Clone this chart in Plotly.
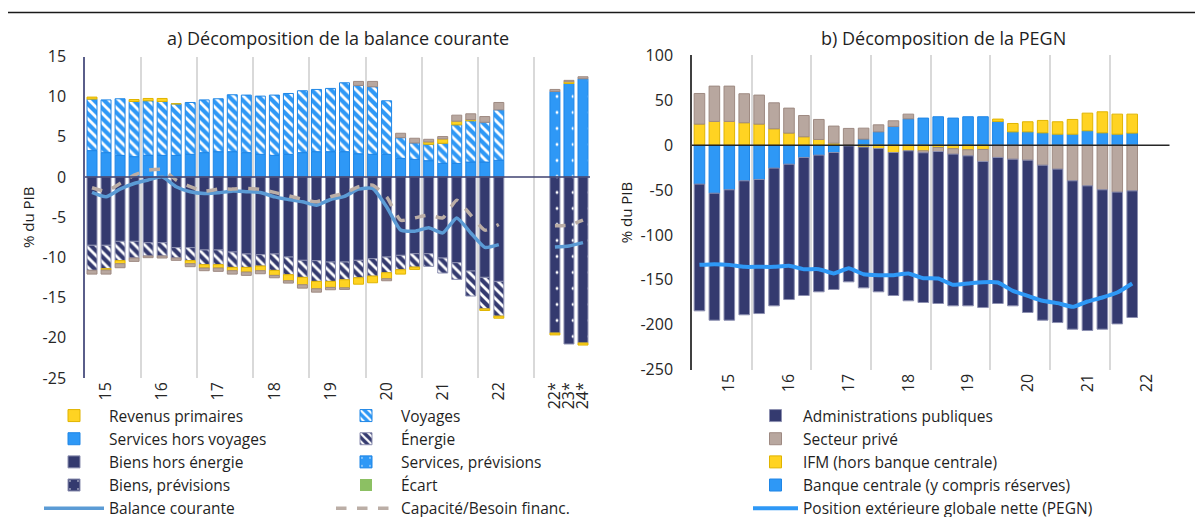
import plotly.graph_objects as go

# ================================
# Données - a) Décomposition de la balance courante (% du PIB)
# ================================
periodes_a = [f"{a}T{t}" for a in range(15, 23) for t in range(1, 5)][:30]   # 2015T1 .. 2022T2
previsions_a = ["22*", "23*", "24*"]

services_hors_voyages = [3.29, 3.04, 2.70, 2.54, 2.70, 2.70, 2.70, 2.83, 3.04, 3.16,
                         3.16, 3.04, 2.83, 2.70, 2.83, 3.04, 3.16, 3.16, 3.16, 2.90,
                         2.83, 2.83, 2.33, 2.20, 2.04, 1.70, 1.70, 1.87, 1.87, 2.08]
voyages = [6.41, 6.56, 7.04, 6.86, 6.79, 6.70, 6.41, 6.45, 6.56, 6.58,
           7.08, 7.16, 7.24, 7.50, 7.57, 7.70, 7.74, 7.87, 8.57, 8.50,
           8.41, 6.66, 2.57, 2.04, 2.04, 2.50, 4.80, 5.13, 4.95, 6.28]
biens_hors_energie = [-8.49, -8.49, -8.00, -8.00, -8.16, -8.16, -8.78, -8.78, -9.07, -9.07,
                      -9.32, -9.57, -9.65, -9.57, -9.95, -10.36, -10.40, -10.57, -10.57, -10.36,
                      -10.15, -9.95, -9.74, -9.53, -9.53, -10.07, -10.65, -11.69, -12.48, -12.98]
energie = [-3.11, -2.91, -2.40, -2.07, -1.66, -1.66, -1.29, -1.62, -1.83, -1.83,
           -1.92, -1.67, -1.42, -2.04, -2.20, -2.12, -2.58, -2.41, -2.21, -2.17,
           -2.17, -1.95, -1.79, -1.67, -1.58, -1.87, -2.08, -3.11, -3.92, -4.32]
services_prev = [10.65, 11.65, 12.23]
biens_prev = [-19.40, -20.77, -20.64]
revenus_primaires = [0.25, -0.17, -0.38, 0.25, 0.29, 0.38, 0.00, -0.38, -0.42, -0.42,
                     -0.41, -0.58, -0.58, -0.62, -0.75, -0.92, -0.92, -0.75, -1.00, -0.80,
                     -0.83, -0.75, -0.54, -0.29, 0.29, 0.54, 0.45, 0.16, -0.20, -0.26,
                     -0.24, 0.21, -0.26]
ecart = [-0.47, -0.50, -0.50, -0.42, -0.21, -0.25, -0.29, -0.37, -0.33, -0.41,
         -0.42, -0.41, -0.38, -0.30, -0.29, -0.42, -0.42, -0.29, -0.20, 0.50,
         0.66, -0.25, 0.55, 0.59, 0.33, 0.30, 0.75, 0.71, 0.71, 0.92,
         0.25, 0.17, 0.25]
balance_courante = [-1.91, -2.46, -1.50, -0.80, -0.37, 0.04, -1.20, -1.83, -2.04, -1.96,
                    -1.75, -1.83, -1.91, -2.46, -2.79, -3.08, -3.50, -2.79, -2.40, -1.50,
                    -1.41, -3.70, -6.60, -6.74, -6.30, -6.95, -5.08, -6.95, -8.74, -8.40]
balance_prev = [-8.70, -8.57, -8.16]
capacite_besoin = [-1.33, -1.75, -0.80, 0.25, 0.85, 0.95, -0.37, -1.20, -1.75, -1.50,
                   -1.50, -1.41, -1.54, -1.91, -2.33, -2.75, -3.08, -2.46, -2.00, -1.20,
                   -1.00, -2.46, -5.37, -5.08, -4.74, -5.08, -2.87, -4.74, -6.60, -5.90]
capacite_prev = [-6.07, -6.00, -5.37]

# ================================
# Données - b) Décomposition de la PEGN (% du PIB)
# ================================
periodes_b = [f"{a}T{t}" for a in range(15, 23) for t in range(1, 5)]   # 2015T1 .. 2022T4 (données jusqu'à 2022T2)

banque_centrale = [-43.4, -53.5, -49.7, -39.7, -38.2, -25.6, -21.2, -13.7, -11.1, -8.2,
                   -0.8, 6.7, 14.8, 20.8, 29.3, 30.1, 31.6, 30.1, 31.6, 31.6,
                   26.4, 14.8, 14.8, 13.7, 12.2, 12.2, 16.0, 13.7, 12.2, 13.4]
ifm = [23.4, 26.4, 26.4, 24.9, 23.4, 18.2, 13.4, 9.3, 6.3, 2.2,
       0.7, -2.2, -3.7, -8.2, -6.3, -6.3, -2.6, -4.0, -5.2, -4.8,
       2.6, 9.3, 11.2, 13.8, 13.8, 16.4, 19.6, 23.4, 22.3, 21.1]
secteur_prive = [34.1, 39.3, 39.3, 32.3, 32.3, 28.9, 27.8, 23.7, 22.3, 19.0,
                 17.9, 12.2, 7.8, 6.3, 5.2, -2.2, -4.5, -6.0, -6.7, -13.4,
                 -13.7, -15.6, -16.7, -22.3, -26.7, -39.7, -45.3, -49.7, -52.3, -50.9]
admin_publiques = [-141.1, -141.4, -145.2, -149.2, -149.3, -153.3, -150.7, -153.7, -152.2, -152.5,
                   -151.4, -156.7, -159.6, -159.2, -167.0, -166.7, -169.2, -168.9, -167.0, -162.6,
                   -162.6, -163.3, -169.6, -172.6, -170.8, -165.2, -161.1, -155.2, -146.7, -141.0]
pegn = [-133.3, -132.5, -133.3, -135.5, -135.5, -135.5, -134.4, -138.1, -138.1, -142.9,
        -137.0, -143.7, -144.8, -144.8, -142.9, -148.1, -148.5, -155.5, -154.0, -152.6,
        -152.9, -162.2, -167.8, -173.3, -175.9, -180.0, -174.1, -169.6, -164.1, -154.0]

# ================================
# Positions sur l'axe des catégories
# ================================
x_a = list(range(1, len(periodes_a) + 1))
x_a_prev = [len(periodes_a) + 3 + i for i in range(1, len(previsions_a) + 1)]
x_a_all = x_a + x_a_prev
ticks_a = [i + 1 for i, p in enumerate(periodes_a) if p.endswith("T2")] + x_a_prev
labels_a = [p[:2] for p in periodes_a if p.endswith("T2")] + previsions_a
n_a = x_a_prev[-1]

x_b = list(range(1, len(banque_centrale) + 1))
ticks_b = [i + 1 for i, p in enumerate(periodes_b) if p.endswith("T3")]
labels_b = [p[:2] for p in periodes_b if p.endswith("T3")]
n_b = len(periodes_b)

yticks_a = list(range(-25, 20, 5))
yticks_b = list(range(-250, 150, 50))

# ================================
# Couleurs
# ================================
NAVY = "#343A6F"
BLUE = "#2E98F6"
YELLOW = "#FFD322"
TAUPE = "#B8A79F"
GREEN = "#8CC063"
LINE_BLUE = "#5B9BD5"
DASH_TAUPE = "#BBAEA6"
FONT = "Open Sans"

fig = go.Figure()

def bar(x, y, name, color, line, legend, rank, axis="a", pattern=None, show=True, lw=1):
    fig.add_trace(go.Bar(
        x=x, y=y, name=name, legend=legend, legendrank=rank, showlegend=show,
        marker=dict(color=color, line=dict(color=line, width=lw), pattern=pattern),
        xaxis="x" if axis == "a" else "x2", yaxis="y" if axis == "a" else "y2",
        hoverinfo="x+y+name"))

stripes = lambda bg: dict(shape="\\", fgcolor="white", bgcolor=bg, size=7, solidity=0.4, fillmode="replace")
dots = lambda bg: dict(shape=".", fgcolor="white", bgcolor=bg, size=16, solidity=0.025, fillmode="replace")

# --- a) barres empilées
bar(x_a, services_hors_voyages, "Services hors voyages", BLUE, "#1F86E6", "legend", 2)
bar(x_a, biens_hors_energie, "Biens hors énergie", NAVY, "#8C8FB0", "legend", 3)
bar(x_a, voyages, "Voyages", BLUE, "#1F86E6", "legend2", 1, pattern=stripes(BLUE))
bar(x_a, energie, "Énergie", NAVY, "#8C8FB0", "legend2", 2, pattern=stripes(NAVY))
bar(x_a_prev, services_prev, "Services, prévisions", BLUE, "#1F86E6", "legend2", 3, pattern=dots(BLUE))
bar(x_a_prev, biens_prev, "Biens, prévisions", NAVY, "#8C8FB0", "legend", 4, pattern=dots(NAVY))
bar(x_a_all, revenus_primaires, "Revenus primaires", YELLOW, "#E0B400", "legend", 1)
bar(x_a_all, ecart, "Écart", TAUPE, "#9E8A82", "legend2", 4, show=False)
# entrée de légende "Écart" (verte dans l'original), barre de hauteur nulle
bar(x_a[:1], [0], "Écart", GREEN, GREEN, "legend2", 4, lw=0)

# --- a) courbes
fig.add_trace(go.Scatter(
    x=x_a + [None] + x_a_prev, y=balance_courante + [None] + balance_prev,
    name="Balance courante", mode="lines", legend="legend", legendrank=5,
    line=dict(color=LINE_BLUE, width=3.5, shape="spline", smoothing=0.5),
    xaxis="x", yaxis="y"))
fig.add_trace(go.Scatter(
    x=x_a + [None] + x_a_prev, y=capacite_besoin + [None] + capacite_prev,
    name="Capacité/Besoin financ.", mode="lines", legend="legend2", legendrank=5,
    line=dict(color=DASH_TAUPE, width=3.5, dash="dash", shape="spline", smoothing=0.5),
    xaxis="x", yaxis="y"))

# --- b) barres empilées
bar(x_b, banque_centrale, "Banque centrale (y compris réserves)", BLUE, "#1F86E6", "legend3", 4, axis="b")
bar(x_b, ifm, "IFM (hors banque centrale)", YELLOW, "#E0B400", "legend3", 3, axis="b")
bar(x_b, secteur_prive, "Secteur privé", TAUPE, "#9E8A82", "legend3", 2, axis="b")
bar(x_b, admin_publiques, "Administrations publiques", NAVY, "#8C8FB0", "legend3", 1, axis="b")
fig.add_trace(go.Scatter(
    x=x_b, y=pegn, name="Position extérieure globale nette (PEGN)", mode="lines",
    legend="legend3", legendrank=5,
    line=dict(color=BLUE, width=4, shape="spline", smoothing=0.4),
    xaxis="x2", yaxis="y2"))

# ================================
# Mise en page
# ================================
W, H = 1203, 517
tick_font = dict(family=FONT, size=16, color="#262626")
grid_a = [0.5 + 4 * k for k in range(1, n_a // 4 + 1)]
grid_b = [0.5 + 4 * k for k in range(1, n_b // 4 + 1)]

xcommon = dict(showgrid=False, zeroline=False, showline=False, ticks="", tickangle=-90,
               tickfont=tick_font, automargin=False)
ycommon = dict(showgrid=False, zeroline=False, showline=True, ticks="", tickfont=tick_font,
               ticklabelstandoff=14, automargin=False)
leg = dict(yanchor="bottom", y=0.0, xanchor="left", font=dict(family=FONT, size=15.5),
           bgcolor="rgba(0,0,0,0)")

fig.update_layout(
    width=W, height=H,
    margin=dict(l=0, r=0, t=0, b=0, autoexpand=False),
    paper_bgcolor="white", plot_bgcolor="white",
    barmode="relative", bargap=0.29,
    font=dict(family=FONT, color="#1F1F1F"),
    xaxis=dict(xcommon, domain=[77 / W, 582 / W], range=[0.5, n_a + 0.5],
               tickvals=ticks_a, ticktext=labels_a, anchor="y",
               minor=dict(tickvals=grid_a, showgrid=True, gridcolor="#D9D9D9", gridwidth=1.5)),
    yaxis=dict(ycommon, domain=[1 - 370 / H, 1 - 48.5 / H], range=[-25, 15],
               tickvals=yticks_a, ticktext=[str(v) for v in yticks_a],
               linecolor="#5A5E8A", linewidth=1.5, anchor="x",
               title=dict(text="% du PIB", font=dict(size=15), standoff=4)),
    xaxis2=dict(xcommon, domain=[684 / W, 1161.5 / W], range=[0.5, n_b + 0.5],
                tickvals=ticks_b, ticktext=labels_b, anchor="y2",
                minor=dict(tickvals=grid_b, showgrid=True, gridcolor="#D9D9D9", gridwidth=1.5)),
    yaxis2=dict(ycommon, domain=[1 - 361.7 / H, 1 - 47.3 / H], range=[-250, 100],
                tickvals=yticks_b, ticktext=[str(v) for v in yticks_b],
                linecolor="#404040", linewidth=1.5, anchor="x2",
                title=dict(text="% du PIB", font=dict(size=15), standoff=4)),
    legend=dict(leg, x=31 / W, itemwidth=60),
    legend2=dict(leg, x=323 / W, itemwidth=60),
    legend3=dict(leg, x=740 / W, itemwidth=45),
    annotations=[
        dict(text="a) Décomposition de la balance courante", x=330 / W, y=1 - 30 / H,
             xref="paper", yref="paper", xanchor="center", yanchor="middle",
             showarrow=False, font=dict(size=18)),
        dict(text="b) Décomposition de la PEGN", x=935 / W, y=1 - 30 / H,
             xref="paper", yref="paper", xanchor="center", yanchor="middle",
             showarrow=False, font=dict(size=18)),
    ],
    shapes=[
        dict(type="line", xref="paper", yref="paper", x0=0, x1=1, y0=1 - 4.5 / H, y1=1 - 4.5 / H,
             line=dict(color="#1A1A1A", width=1.5)),
        dict(type="line", xref="x domain", yref="y", x0=0, x1=1, y0=0, y1=0,
             line=dict(color="#3F4270", width=1.5)),
        dict(type="line", xref="x2 domain", yref="y2", x0=0, x1=1, y0=0, y1=0,
             line=dict(color="#262626", width=1.5)),
    ],
)

fig.write_html("out.html")
